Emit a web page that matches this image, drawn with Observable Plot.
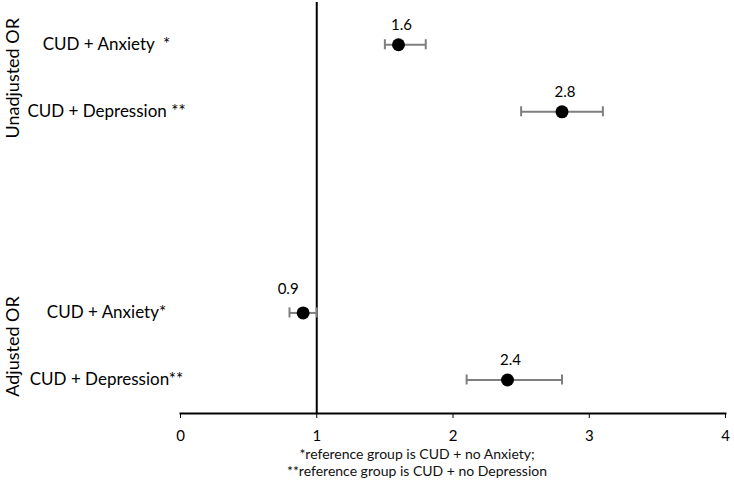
<!DOCTYPE html>
<html>
<head>
<meta charset="utf-8">
<script src="https://cdn.jsdelivr.net/npm/d3@7"></script>
<script src="https://cdn.jsdelivr.net/npm/@observablehq/plot@0.6"></script>
<style>
  body { margin: 0; background: #fff; font-family: Lato, "Open Sans", sans-serif; }
  #caption { width: 734px; font-size: 14px; line-height: 17px; margin-top: 3px; color: #111; }
  #caption div { position: relative; left: 50px; text-align: center; }
</style>
</head>
<body>
<div id="chart"></div>
<div id="caption">
  <div>*reference group is CUD + no Anxiety;</div>
  <div>**reference group is CUD + no Depression</div>
</div>
<script>
const groups = ["Unadjusted OR", "Unadjusted OR", "Adjusted OR", "Adjusted OR"];
const labels = ["CUD + Anxiety  *", "CUD + Depression **", "CUD + Anxiety*", "CUD + Depression**"];
const rowIndex = [0, 1, 4, 5];
const oddsRatio = [1.6, 2.8, 0.9, 2.4];
const ciLow = [1.5, 2.5, 0.8, 2.1];
const ciHigh = [1.8, 3.1, 1.0, 2.8];
const xTicks = [0, 1, 2, 3, 4];
const groupNames = ["Unadjusted OR", "Adjusted OR"];
const referenceOR = 1;

const rows = labels.map((label, i) => ({
  group: groups[i], label, pos: rowIndex[i], or: oddsRatio[i], lo: ciLow[i], hi: ciHigh[i]
}));
const groupRows = groupNames.map(g => ({
  group: g, pos: d3.mean(rows.filter(r => r.group === g), r => r.pos)
}));
const nearRef = d => Math.abs(d.or - referenceOR) < 0.2;

const capHalf = 0.075;

const chart = Plot.plot({
  width: 734,
  height: 442,
  marginLeft: 180,
  marginRight: 9,
  marginTop: 2,
  marginBottom: 29,
  style: { fontFamily: "Lato, 'Open Sans', sans-serif", fontSize: "15px", color: "#000", overflow: "visible" },
  x: { domain: [0, 4], ticks: xTicks, tickFormat: "d", tickSize: 5, tickPadding: 12, label: null },
  y: { domain: [-0.63, 5.5], reverse: true, axis: null },
  marks: [
    Plot.frame({ anchor: "bottom", strokeWidth: 2, stroke: "#000" }),
    Plot.ruleX([referenceOR], { stroke: "#000", strokeWidth: 2 }),
    Plot.ruleY(rows, { x1: "lo", x2: "hi", y: "pos", stroke: "#7f7f7f", strokeWidth: 2 }),
    Plot.ruleX(rows, { x: "lo", y1: d => d.pos - capHalf, y2: d => d.pos + capHalf, stroke: "#7f7f7f", strokeWidth: 2 }),
    Plot.ruleX(rows, { x: "hi", y1: d => d.pos - capHalf, y2: d => d.pos + capHalf, stroke: "#7f7f7f", strokeWidth: 2 }),
    Plot.dot(rows, { x: "or", y: "pos", r: 6.5, fill: "#000", stroke: "none" }),
    Plot.text(rows.filter(d => !nearRef(d)), { x: "or", y: "pos", text: d => d.or.toFixed(1), dx: 3, dy: -20, fontSize: 15, fill: "#000" }),
    Plot.text(rows.filter(nearRef), { x: "or", y: "pos", text: d => d.or.toFixed(1), dx: -15, dy: -24, fontSize: 15, fill: "#000" }),
    Plot.text(rows, { y: "pos", text: "label", frameAnchor: "left", textAnchor: "middle", dx: -74, fontSize: 17, fill: "#000" }),
    Plot.text(groupRows, { y: "pos", text: "group", frameAnchor: "left", textAnchor: "middle", rotate: -90, dx: -167, fontSize: 18, fill: "#000" })
  ]
});
document.getElementById("chart").appendChild(chart);
</script>
</body>
</html>
